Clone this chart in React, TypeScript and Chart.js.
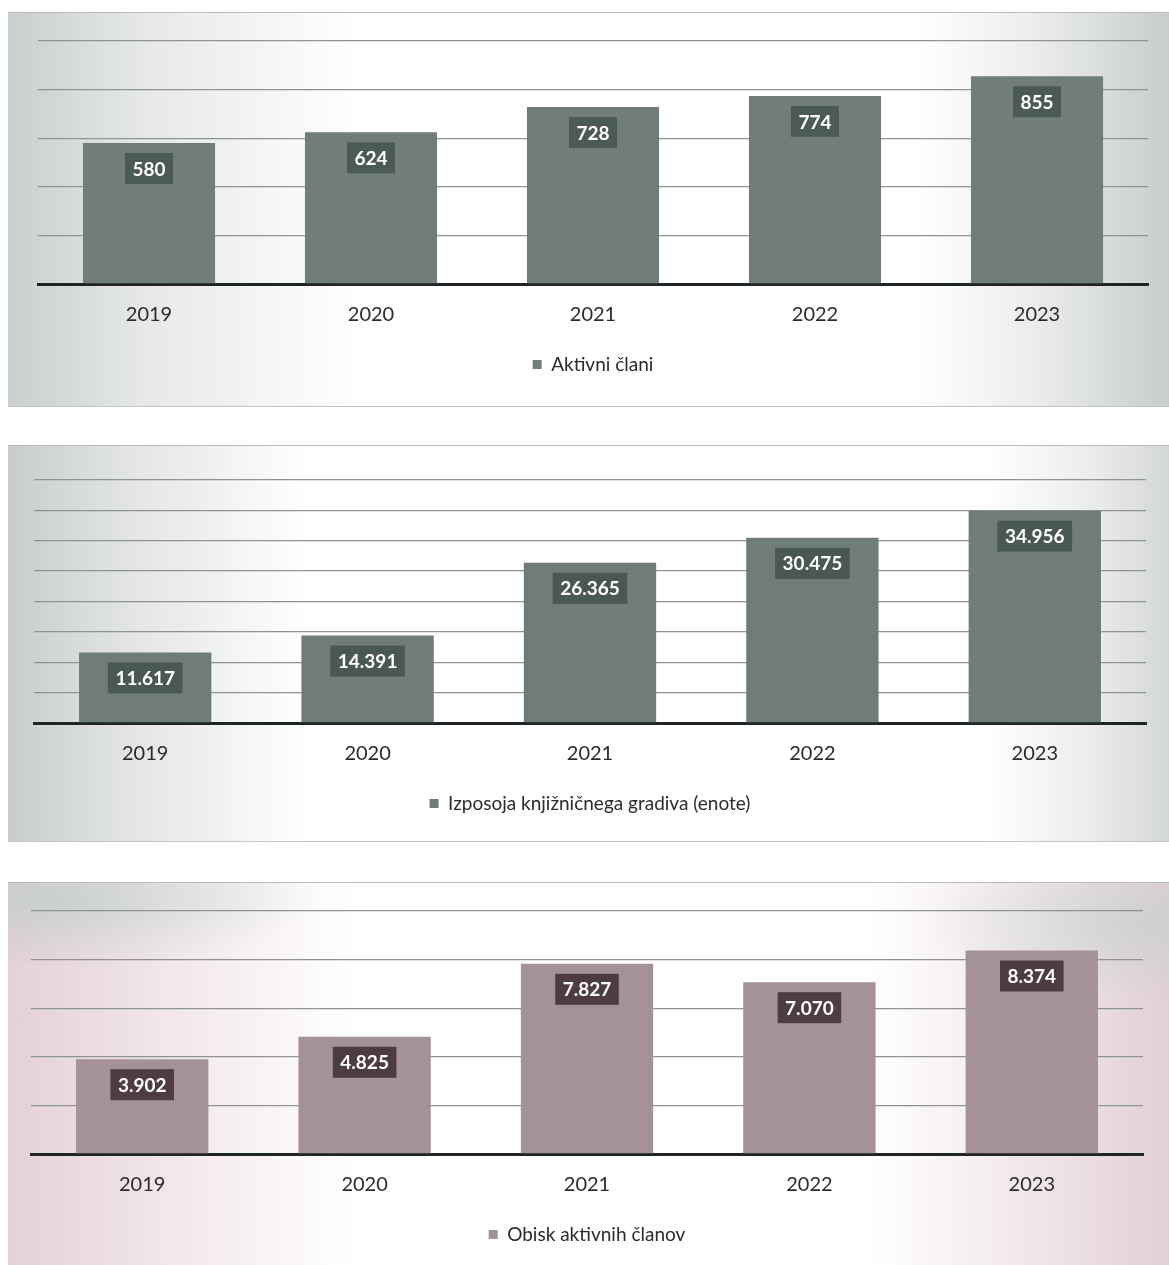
import React, { useEffect, useRef } from "react";
import { Chart, registerables } from "chart.js";

Chart.register(...registerables);

const years = ["2019", "2020", "2021", "2022", "2023"];
const activeMembers = [580, 624, 728, 774, 855];
const loans = [11617, 14391, 26365, 30475, 34956];
const visits = [3902, 4825, 7827, 7070, 8374];
const seriesNames = [
  "Aktivni člani",
  "Izposoja knjižničnega gradiva (enote)",
  "Obisk aktivnih članov",
];
const axisMax = [1000, 40000, 10000];
const axisStep = [200, 5000, 2000];

const FONT = "Lato, 'Open Sans', sans-serif";

const fmt = (v: number) => String(v).replace(/\B(?=(\d{3})+(?!\d))/g, ".");

const boxLabels = {
  id: "boxLabels",
  afterDatasetsDraw(chart: any, _args: any, opts: any) {
    const ctx = chart.ctx;
    const meta = chart.getDatasetMeta(0);
    const data = chart.data.datasets[0].data as number[];
    ctx.save();
    ctx.font = `bold 19px ${FONT}`;
    meta.data.forEach((el: any, i: number) => {
      const t = fmt(data[i]);
      const w = ctx.measureText(t).width + 15;
      const h = 31;
      const x = el.x - w / 2;
      const y = el.y + 10;
      ctx.fillStyle = opts.boxColor;
      ctx.fillRect(x, y, w, h);
      ctx.fillStyle = "#ffffff";
      ctx.textAlign = "center";
      ctx.textBaseline = "middle";
      ctx.fillText(t, el.x, y + h / 2 + 1);
    });
    ctx.restore();
  },
};

type BarProps = {
  values: number[];
  name: string;
  max: number;
  step: number;
  barColor: string;
  boxColor: string;
  padLeft: number;
  padRight: number;
};

const CANVAS_H = 373;

function BarPanel(p: BarProps) {
  const ref = useRef<HTMLCanvasElement | null>(null);
  useEffect(() => {
    if (!ref.current) return;
    const chart = new Chart(ref.current, {
      type: "bar",
      data: {
        labels: years,
        datasets: [
          {
            label: p.name,
            data: p.values,
            backgroundColor: p.barColor,
            barPercentage: 0.595,
            categoryPercentage: 1,
          },
        ],
      },
      options: {
        animation: false,
        responsive: false,
        maintainAspectRatio: false,
        layout: { padding: { left: p.padLeft, right: p.padRight, top: 30, bottom: 0 } },
        scales: {
          x: {
            grid: { display: false, drawTicks: false },
            border: { display: true, color: "#1f2424", width: 3 },
            ticks: { color: "#2b2b2b", font: { family: FONT, size: 20 }, padding: 19 },
          },
          y: {
            min: 0,
            max: p.max,
            ticks: { display: false, stepSize: p.step },
            grid: { color: "#8f9392", lineWidth: 1.3, drawTicks: false },
            border: { display: false },
          },
        },
        plugins: {
          legend: {
            position: "bottom",
            labels: {
              boxWidth: 9,
              boxHeight: 9,
              padding: 9,
              color: "#2b2b2b",
              font: { family: FONT, size: 19 },
            },
          },
          tooltip: { enabled: false },
          boxLabels: { boxColor: p.boxColor },
        } as any,
      },
      plugins: [boxLabels],
    });
    (document as any).fonts?.load?.(`20px Lato`).then(() => chart.update());
    return () => chart.destroy();
  }, []);
  return <canvas ref={ref} width={1169} height={CANVAS_H} style={{ display: "block" }} />;
}

export default function App() {
  const panel = (top: number, height: number, bg: string): React.CSSProperties => ({
    position: "absolute",
    left: 8,
    top,
    width: 1161,
    height,
    background: bg,
    borderTop: "1px solid #b9bcbb",
    borderBottom: "1px solid #c4c6c5",
  });
  const canvasBox = (top: number): React.CSSProperties => ({
    position: "absolute",
    left: 0,
    top,
    width: 1169,
    height: CANVAS_H,
  });
  return (
    <div
      style={{
        position: "absolute",
        left: 0,
        top: 0,
        width: 1169,
        height: 1265,
        overflow: "hidden",
        background: "#ffffff",
      }}
    >
      <div
        style={panel(
          12,
          393,
          "linear-gradient(90deg, #c9cfcd 0%, #e6e9e8 12%, #ffffff 30%, #ffffff 78%, #eceeed 88%, #c7cdcb 100%)"
        )}
      />
      <div
        style={panel(
          445,
          395,
          "linear-gradient(90deg, #c8cdcc 0%, #e3e6e5 11%, #ffffff 26%, #ffffff 84%, #e9ebea 94%, #d2d6d5 100%)"
        )}
      />
      <div
        style={panel(
          882,
          383,
          "radial-gradient(ellipse 260px 70px at 50px 15px, rgba(170,200,192,0.5), rgba(170,200,192,0) 100%), radial-gradient(ellipse 220px 80px at 1130px 40px, rgba(180,205,198,0.45), rgba(180,205,198,0) 100%), linear-gradient(90deg, #e4d1d7 0%, #f2e7ea 14%, #ffffff 30%, #ffffff 74%, #f2e8eb 87%, #e2d0d6 100%)"
        )}
      />
      <div style={canvasBox(11)}>
        <BarPanel
          values={activeMembers}
          name={seriesNames[0]}
          max={axisMax[0]}
          step={axisStep[0]}
          barColor="#717d7a"
          boxColor="#4c5a57"
          padLeft={38}
          padRight={21}
        />
      </div>
      <div style={canvasBox(450)}>
        <BarPanel
          values={loans}
          name={seriesNames[1]}
          max={axisMax[1]}
          step={axisStep[1]}
          barColor="#6f7c79"
          boxColor="#4a5855"
          padLeft={34}
          padRight={23}
        />
      </div>
      <div style={canvasBox(881)}>
        <BarPanel
          values={visits}
          name={seriesNames[2]}
          max={axisMax[2]}
          step={axisStep[2]}
          barColor="#a59298"
          boxColor="#4d3c41"
          padLeft={31}
          padRight={26}
        />
      </div>
    </div>
  );
}
